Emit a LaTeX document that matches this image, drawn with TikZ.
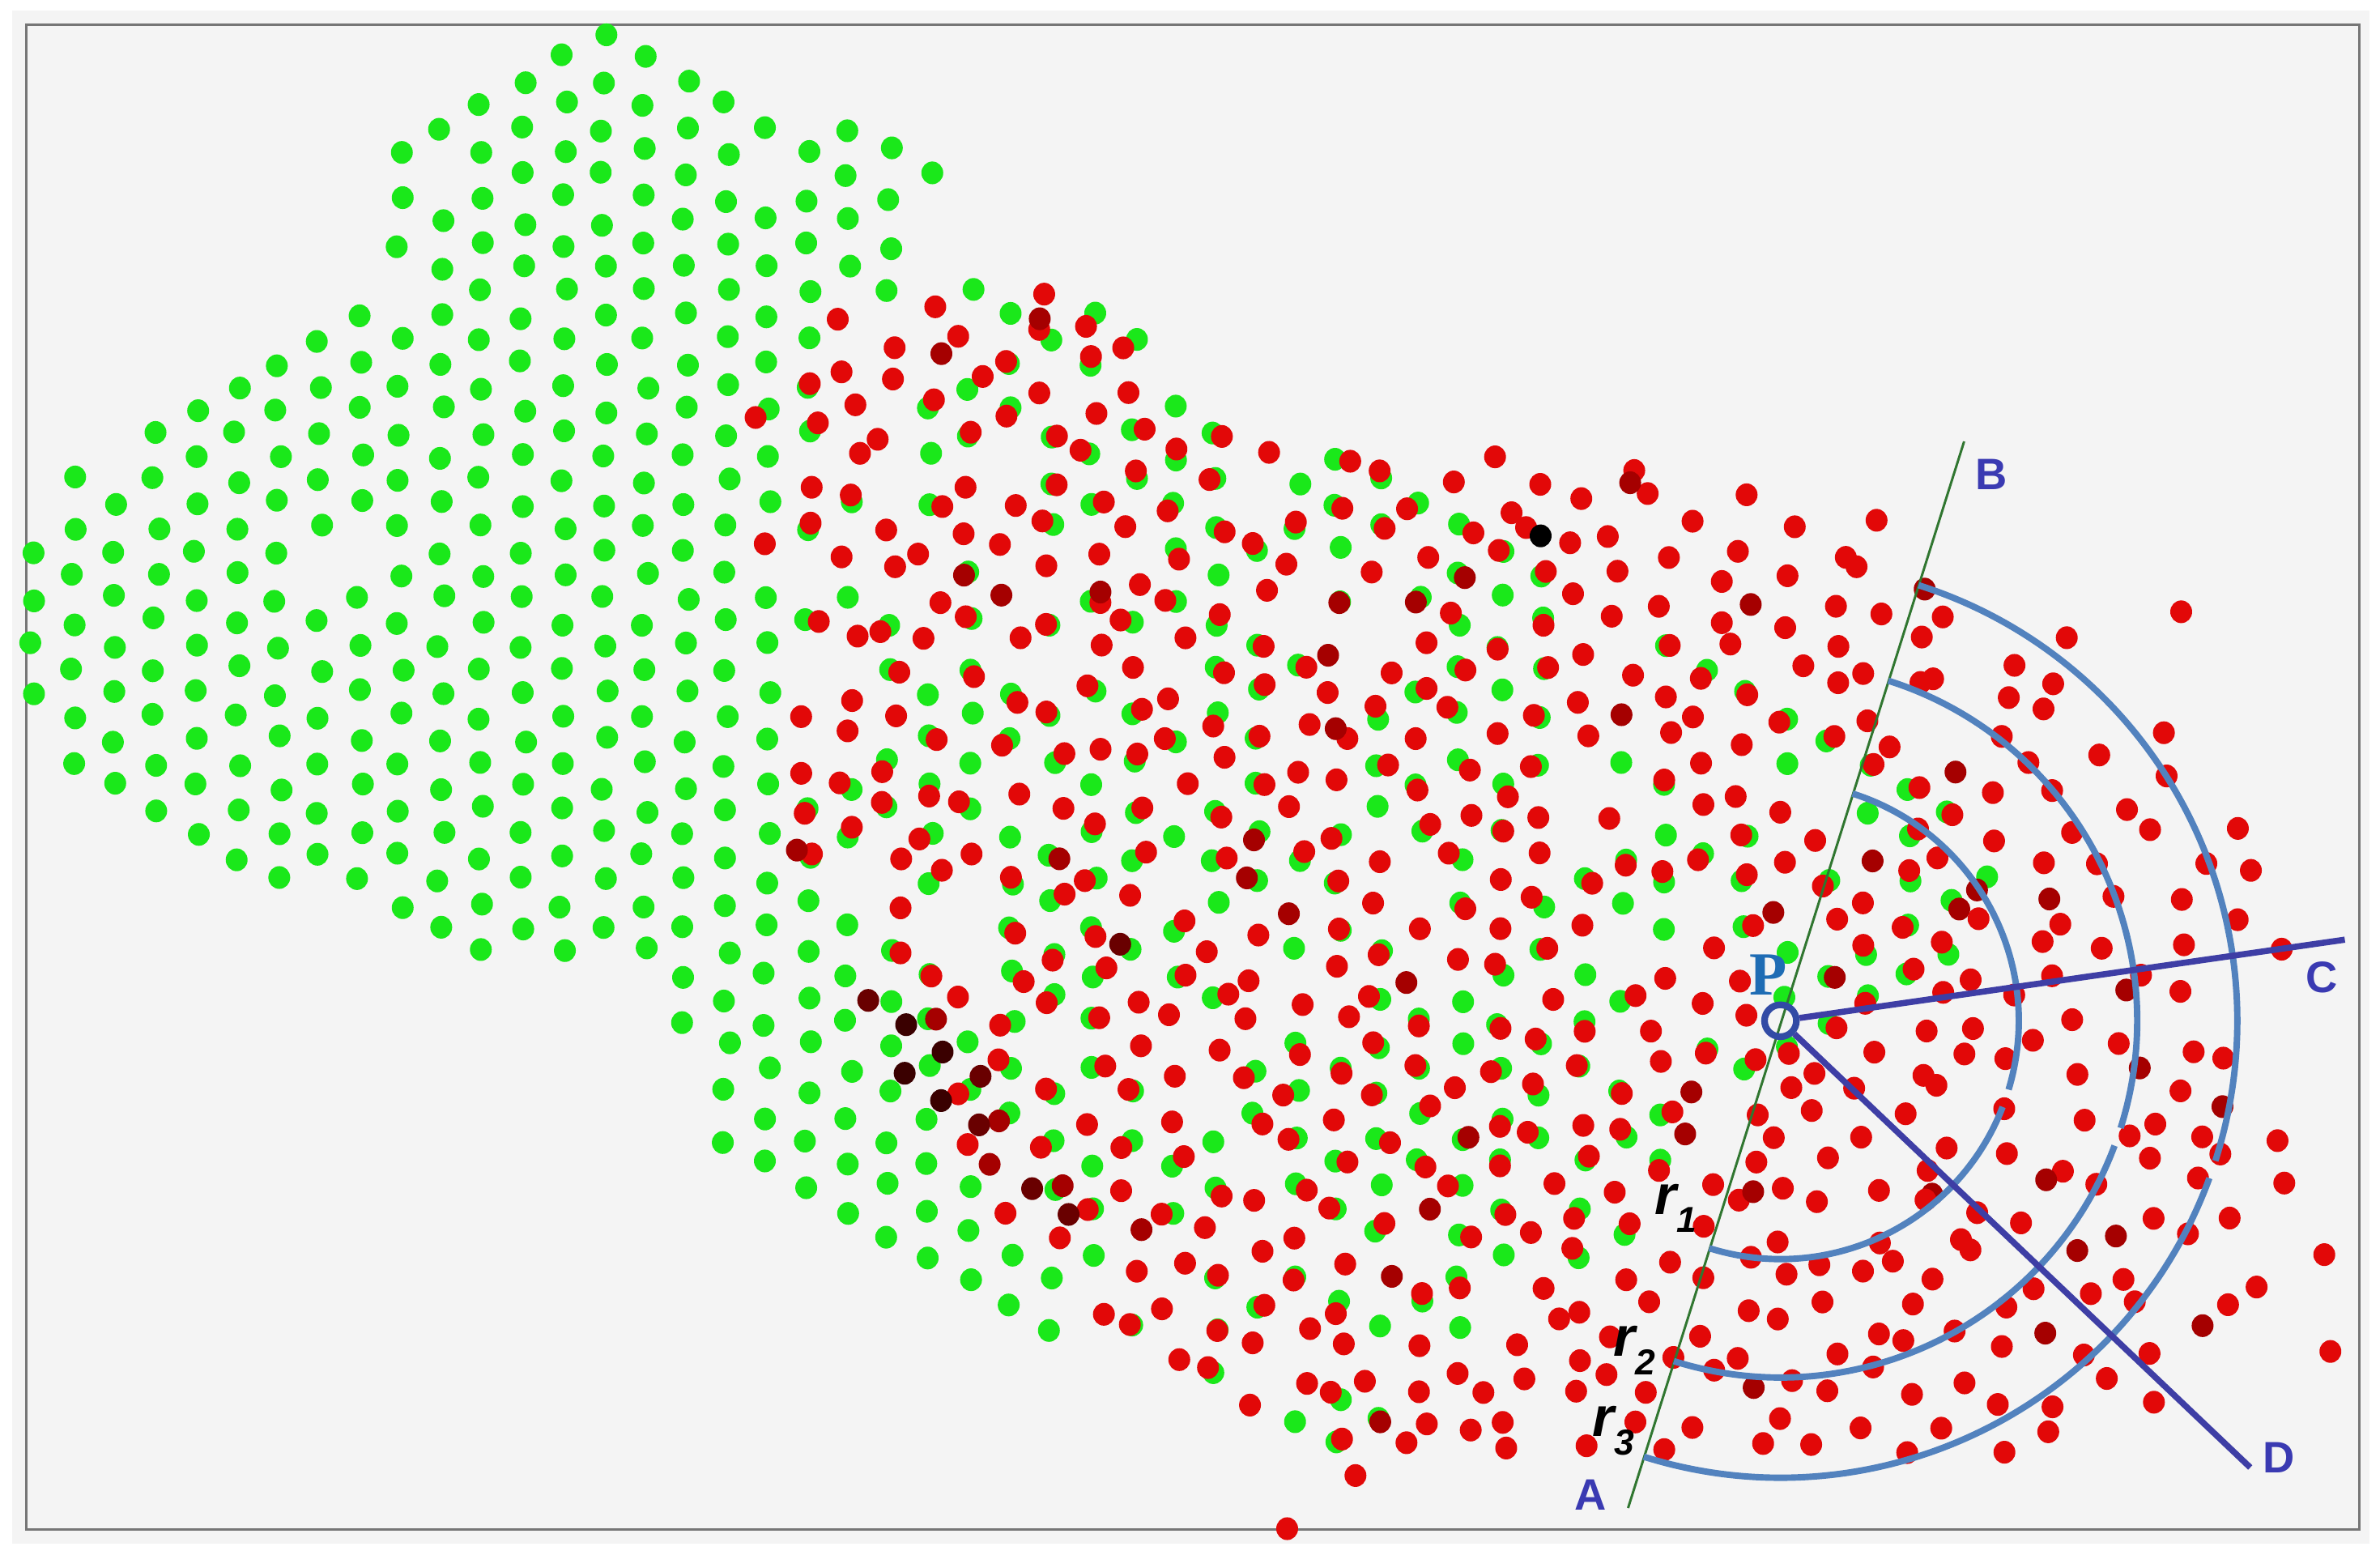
\documentclass[tikz,border=0pt]{standalone}
\usepackage{fontspec}
\setmainfont{Liberation Sans}
\newfontfamily\pserif{Liberation Serif}
\definecolor{gdot}{RGB}{26,232,26}
\definecolor{rdot}{RGB}{226,8,8}
\definecolor{drdot}{RGB}{165,0,0}
\definecolor{ddot}{RGB}{105,0,0}
\definecolor{vdot}{RGB}{58,0,0}
\definecolor{bgc}{RGB}{244,244,244}
\definecolor{framec}{RGB}{118,118,118}
\definecolor{arcc}{RGB}{82,130,190}
\definecolor{rayc}{RGB}{62,62,165}
\definecolor{abc}{RGB}{48,118,48}
\definecolor{labc}{RGB}{58,58,178}
\definecolor{pcol}{RGB}{30,108,180}
\definecolor{pcirc}{RGB}{50,75,165}

\makeatletter
\newcommand\pwl[3]{%
  \gdef\pwl@first{1}%
  \global\let#1\relax
  \foreach \pwl@a/\pwl@b in #3{%
    \ifnum\pwl@first=1\relax
      \gdef\pwl@first{0}%
    \else
      \ifx#1\relax
        \pgfmathtruncatemacro\pwl@f{(#2<=\pwl@a)}%
        \ifnum\pwl@f=1\relax
          \pgfmathsetmacro\pwl@t{\pwl@pb+(\pwl@b-\pwl@pb)*(#2-\pwl@pa)/(\pwl@a-\pwl@pa)}%
          \xdef#1{\pwl@t}%
        \fi
      \fi
    \fi
    \xdef\pwl@pa{\pwl@a}\xdef\pwl@pb{\pwl@b}%
  }%
}
\makeatother

\def\listL{-100/385,22/385,105/245,150/262,185/252,215/200,245/150,280/100,310/45,360/22,455/22,500/50,540/110,570/170,625/270,640/430,660/448,720/468,770/490,800/540,830/600,875/700,915/800,955/880,2000/880}
\def\listR{-100/395,22/395,30/425,45/462,72/505,80/545,100/615,150/592,185/600,195/740,210/755,245/765,270/810,290/860,300/1005,318/1110,340/1230,385/1268,400/1300,440/1400,480/1420,540/1460,570/1490,578/1540,640/1540,700/1505,770/1492,850/1540,895/1530,920/1470,945/1310,2000/1310}
\def\listr{-100/630,190/630,198/560,270/490,330/490,480/515,590/515,600/568,650/592,770/642,860/712,950/880,2000/880}
\def\listg{-100/870,290/870,300/940,400/1060,450/1140,500/1250,530/1335,610/1335,650/1260,700/1190,760/1110,830/1065,880/990,950/900,2000/900}

\newcommand\putdot[3]{\fill[#3] (#1,#2) ellipse[x radius=7.2,y radius=7.5];}
\newcommand\rlab[1]{\fontsize{21}{21}\selectfont\bfseries\itshape r\kern0pt\raisebox{-6.9pt}{\fontsize{13.5}{13.5}\selectfont #1}}

\begin{document}
\begin{tikzpicture}[x=0.02cm,y=-0.02cm,
  arcsty/.style={draw=arcc,line width=2.4pt},
  raysty/.style={draw=rayc,line width=2.3pt},
  absty/.style={draw=abc,line width=0.9pt},
  lab/.style={text=labc,font=\fontsize{16.5}{16.5}\selectfont\bfseries,inner sep=0pt},
  plab/.style={text=pcol,font=\pserif\fontsize{23}{23}\selectfont\bfseries,inner sep=0pt},
  rl/.style={text=black,inner sep=0pt}]
\useasboundingbox (0,0) rectangle (1568,1024);
\fill[white] (0,0) rectangle (1568,1024);
\fill[bgc] (8,7) rectangle (1561,1017);
\draw[framec,line width=0.9pt] (17.4,16.5) rectangle (1554.5,1007.6);

% green lattice pass
\pgfmathsetseed{2024}
\foreach \j in {0,...,60}{%
  \pgfmathsetmacro\yy{22+15.5*\j}%
  \pwl\xL{\yy}\listL
  \pwl\xR{\yy}\listR
  \pwl\xr{\yy}\listr
  \pwl\xg{\yy}\listg
  \foreach \k in {0,...,28}{%
    \pgfmathsetmacro\xx{22+53.7*\k+26.85*mod(\j,2)}%
    \pgfmathtruncatemacro\inside{(\xx>=\xL-6)&&(\xx<=\xR+6)}%
    \ifnum\inside=1\relax
      \pgfmathtruncatemacro\zone{(\xx<\xr)?0:((\xx<\xg)?1:2)}%
      \pgfmathsetmacro\ra{rnd}%
      \pgfmathtruncatemacro\keep{((\zone==0)&&(\ra<0.985))||((\zone==1)&&(\ra<0.55))}%
      \ifnum\keep=1\relax
        \pgfmathsetmacro\qx{\xx+5*rnd-2.5}%
        \pgfmathsetmacro\qy{\yy+5*rnd-2.5}%
        \putdot{\qx}{\qy}{gdot}
      \fi
    \fi
  }%
}

% red pass
\pgfmathsetseed{777}
\foreach \j in {0,...,60}{%
  \pgfmathsetmacro\yy{22+15.5*\j}%
  \pwl\xL{\yy}\listL
  \pwl\xR{\yy}\listR
  \pwl\xr{\yy}\listr
  \pwl\xg{\yy}\listg
  \foreach \k in {0,...,28}{%
    \pgfmathsetmacro\xx{22+53.7*\k+26.85*mod(\j,2)}%
    \pgfmathtruncatemacro\inside{(\xx>=\xL-6)&&(\xx<=\xR+6)}%
    \ifnum\inside=1\relax
      \pgfmathtruncatemacro\zone{(\xx<\xr)?0:((\xx<\xg)?1:2)}%
      \ifnum\zone>0\relax
        \pgfmathsetmacro\ra{rnd}%
        \pgfmathsetmacro\pred{(\zone==1)?0.84:max(0.45,min(0.97,0.97-0.5*(\xx-1250)/300))}%
        \pgfmathtruncatemacro\keep{\ra<\pred}%
        \ifnum\keep=1\relax
          \pgfmathsetmacro\jit{(\zone==1)?9:13}%
          \pgfmathsetmacro\qx{\xx+2*\jit*rnd-\jit}%
          \pgfmathsetmacro\qy{\yy+14*rnd-7}%
          \pgfmathtruncatemacro\dk{rnd<0.08}%
          \pgfmathtruncatemacro\nearlab{(veclen(\qx-1165,\qy-642)<17)||(veclen(\qx-1529.6,\qy-644)<17)||(veclen(\qx-1104,\qy-796)<13)}%
          \ifnum\nearlab=0\relax
            \ifnum\dk=1\relax\def\dcol{drdot}\else\def\dcol{rdot}\fi
            \putdot{\qx}{\qy}{\dcol}
          \fi
        \fi
      \fi
    \fi
  }%
}

% isolated and dark dots
\foreach \qx/\qy in {848/1007,893/972,940/938,990/937,1437/403}{\putdot{\qx}{\qy}{rdot}}
\foreach \qx/\qy in {652/767,1074/318,685/210,725/390,880/480,1155/785,525/560}{\putdot{\qx}{\qy}{drdot}}
\foreach \qx/\qy in {572/659,646/709,645/741,704/800,680/783,738/622}{\putdot{\qx}{\qy}{ddot}}
\foreach \qx/\qy in {597/675,621/693,596/707,620/725}{\putdot{\qx}{\qy}{vdot}}
\putdot{1015}{353}{black}

% construction
\coordinate (A) at (1072.6,993.4);
\coordinate (B) at (1294,290.8);
\coordinate (C) at (1544.8,619);
\coordinate (D) at (1482.5,966.7);
\draw[absty] (A) -- (B);
\node[circle,draw=pcirc,line width=2.5pt,minimum size=0.42cm,inner sep=0pt] (P) at (1173,672.4) {};
\foreach \R/\g in {157/2.2,235/1.5,301/1.15}{
  \draw[arcsty] (P.center) ++(-72.4:\R) arc[start angle=-72.4,end angle={19-\g},radius=\R];
  \draw[arcsty] (P.center) ++({19+\g}:\R) arc[start angle={19+\g},end angle=107.4,radius=\R];
}
\draw[raysty] (P) -- (C);
\draw[raysty] (P) -- (D);

% labels
\node[lab] (labA) at (1047.7,984.5) {A};
\node[lab] (labB) at (1312,312.6) {B};
\node[lab] (labC) at (1529.6,644) {C};
\node[lab] (labD) at (1501.5,960) {D};
\node[plab] (labP) at (1165,642) {P};
\node[rl] (rl1) at (1104,796) {\rlab{1}};
\node[rl] (rl2) at (1076.6,889.4) {\rlab{2}};
\node[rl] (rl3) at (1062.7,942.4) {\rlab{3}};
\end{tikzpicture}
\end{document}
